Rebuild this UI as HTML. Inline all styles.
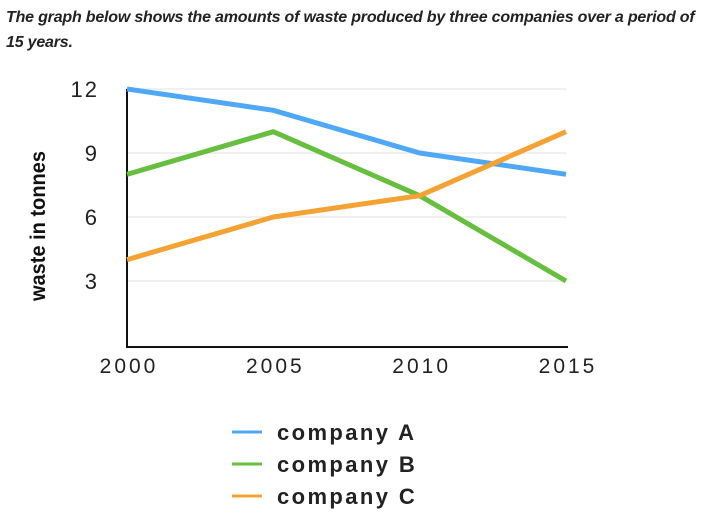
<!DOCTYPE html>
<html><head><meta charset="utf-8"><style>
body{margin:0;background:#fff;width:715px;height:514px;overflow:hidden;font-family:"Liberation Sans",sans-serif}
.title{position:absolute;left:6px;top:5px;white-space:nowrap;font-size:16px;font-weight:bold;font-style:italic;color:#222;line-height:25px;letter-spacing:-0.2px}
</style></head><body>
<div class="title">The graph below shows the amounts of waste produced by three companies over a period of<br>15 years.</div>
<svg id="chart" width="715" height="514" style="position:absolute;left:0;top:0"></svg>
<script>
const years=[2000,2005,2010,2015];
const yTicks=[3,6,9,12];
const seriesNames=["company A","company B","company C"];
const companyA=[12,11,9,8];
const companyB=[8,10,7,3];
const companyC=[4,6,7,10];
const colors=["#4fa8f5","#66bf3e","#f3a233"];
const svg=document.getElementById('chart');
const NS='http://www.w3.org/2000/svg';
const x0=127,x1=566,yBase=345,yTop=89;
function xs(i){return x0+(x1-x0)*i/(years.length-1);}
function ys(v){return yBase-(yBase-yTop)*v/12;}
function mk(t,a,p){const e=document.createElementNS(NS,t);for(const k in a)e.setAttribute(k,a[k]);(p||svg).appendChild(e);return e;}
yTicks.forEach(t=>{
  const g=mk('line',{x1:x0,x2:566,y1:ys(t),y2:ys(t),stroke:'#ebebeb','stroke-width':1.5});
  
  
  const l=mk('text',{x:99,y:ys(t)+8,'text-anchor':'end','font-size':22,fill:'#222','letter-spacing':2});
  l.textContent=t;
  
  
});
const ax=mk('path',{d:`M${x0} ${yTop} V${yBase+2} H568`,stroke:'#111','stroke-width':2,fill:'none'});


years.forEach((y,i)=>{
  const l=mk('text',{x:xs(i)+2,y:373,'text-anchor':'middle','font-size':21,fill:'#222','letter-spacing':3});
  l.textContent=y;
  
  
});
const yt=mk('text',{transform:'translate(45,226) rotate(-90)','text-anchor':'middle','font-size':21,'font-weight':'bold',fill:'#111',textLength:150,lengthAdjust:'spacingAndGlyphs'});
yt.textContent='waste in tonnes';


const data=[companyA,companyB,companyC];
data.forEach((s,k)=>{
  const p=mk('polyline',{points:s.map((v,i)=>xs(i)+','+ys(v)).join(' '),fill:'none',stroke:colors[k],'stroke-width':5,'stroke-linejoin':'round'});
  
  
});
seriesNames.forEach((n,k)=>{
  const y=432+k*32;
  const g=mk('g',{});
  
  
  mk('line',{x1:232,x2:262,y1:y,y2:y,stroke:colors[k],'stroke-width':3},g);
  const t=mk('text',{x:277,y:y+8,'font-size':22,'font-weight':'bold',fill:'#222','letter-spacing':2.4},g);
  t.textContent=n;
});
</script>
</body></html>
